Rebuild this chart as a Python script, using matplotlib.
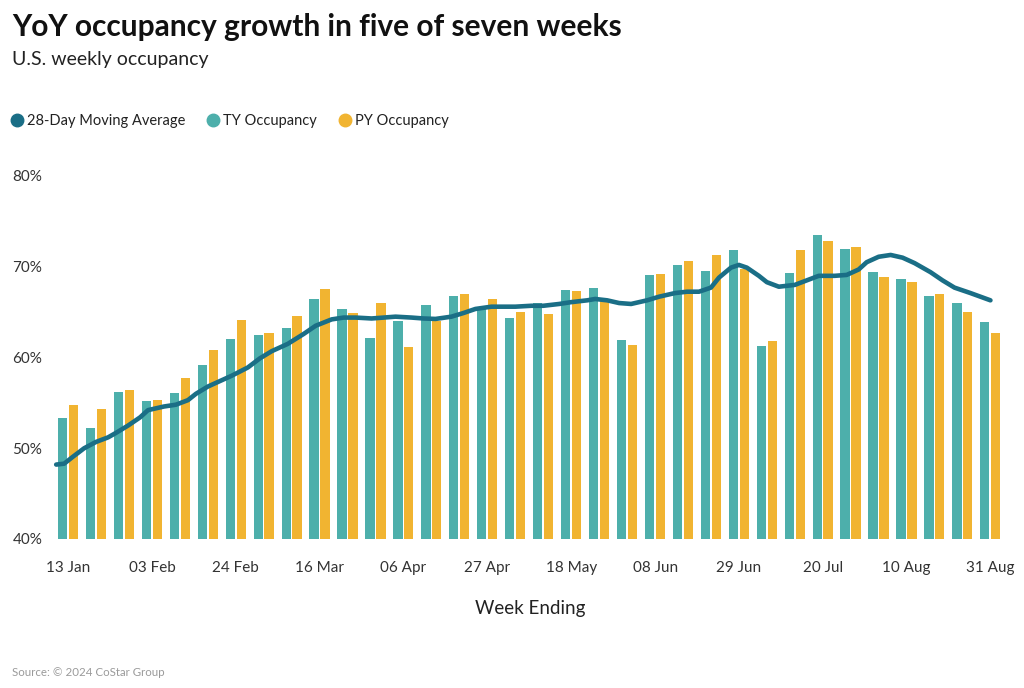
import numpy as np
import pandas as pd
import matplotlib
matplotlib.use("Agg")
import matplotlib.pyplot as plt
from matplotlib.lines import Line2D

plt.rcParams['font.family'] = ['Lato', 'DejaVu Sans']

# weekly data (week ending)
weeks = pd.date_range("2024-01-13", "2024-08-31", freq="7D")
ty_occ = [53.3, 52.2, 56.2, 55.2, 56.1, 59.2, 62.0, 62.5, 63.2, 66.5,
          65.3, 62.2, 64.0, 65.8, 66.8, 65.6, 64.4, 66.0, 67.4, 67.7,
          61.9, 69.1, 70.2, 69.5, 71.9, 61.3, 69.3, 73.5, 72.0, 69.4,
          68.6, 66.8, 66.0, 63.9]
py_occ = [54.8, 54.3, 56.4, 55.3, 57.7, 60.8, 64.1, 62.7, 64.6, 67.5,
          64.9, 66.0, 61.2, 64.0, 67.0, 66.5, 65.0, 64.8, 67.3, 66.4,
          61.4, 69.2, 70.6, 71.3, 69.7, 61.8, 71.9, 72.8, 72.2, 68.9,
          68.3, 67.0, 65.0, 62.7]

# 28-day moving average (daily, read at a few days apart)
ma_dates = ["2024-01-10", "2024-01-12", "2024-01-14", "2024-01-17", "2024-01-20",
            "2024-01-23", "2024-01-25", "2024-01-28", "2024-01-31", "2024-02-02",
            "2024-02-06", "2024-02-09", "2024-02-12", "2024-02-14", "2024-02-17",
            "2024-02-20", "2024-02-23", "2024-02-27", "2024-03-01", "2024-03-04",
            "2024-03-08", "2024-03-12", "2024-03-15", "2024-03-19", "2024-03-22",
            "2024-03-25", "2024-03-29", "2024-04-01", "2024-04-04", "2024-04-08",
            "2024-04-11", "2024-04-14", "2024-04-18", "2024-04-21", "2024-04-24",
            "2024-04-28", "2024-05-01", "2024-05-04", "2024-05-08", "2024-05-11",
            "2024-05-15", "2024-05-18", "2024-05-22", "2024-05-24", "2024-05-27",
            "2024-05-30", "2024-06-02", "2024-06-06", "2024-06-09", "2024-06-13",
            "2024-06-16", "2024-06-19", "2024-06-22", "2024-06-24", "2024-06-27",
            "2024-06-29", "2024-07-01", "2024-07-04", "2024-07-06", "2024-07-09",
            "2024-07-13", "2024-07-16", "2024-07-19", "2024-07-23", "2024-07-26",
            "2024-07-29", "2024-07-31", "2024-08-03", "2024-08-06", "2024-08-09",
            "2024-08-12", "2024-08-16", "2024-08-19", "2024-08-22", "2024-08-26",
            "2024-08-31"]
ma_vals = [48.2, 48.3, 49.0, 50.0, 50.7, 51.2, 51.7, 52.5, 53.4, 54.2,
           54.6, 54.8, 55.3, 56.0, 56.8, 57.4, 58.0, 58.9, 59.9, 60.7,
           61.5, 62.6, 63.5, 64.2, 64.4, 64.4, 64.3, 64.4, 64.5, 64.4,
           64.3, 64.25, 64.5, 64.9, 65.35, 65.6, 65.6, 65.6, 65.7, 65.7,
           65.9, 66.1, 66.3, 66.45, 66.3, 66.0, 65.9, 66.3, 66.7, 67.1,
           67.25, 67.25, 67.7, 68.8, 69.9, 70.2, 69.9, 69.0, 68.3, 67.8,
           68.0, 68.5, 69.0, 69.0, 69.1, 69.7, 70.5, 71.1, 71.3, 71.0,
           70.4, 69.4, 68.5, 67.7, 67.1, 66.3]

TEAL = "#4dafab"
GOLD = "#f1b431"
DARK = "#1a6e86"

fig = plt.figure(figsize=(10.24, 6.88), dpi=100)
ax = fig.add_axes([50 / 1024, (688 - 539) / 688, 960 / 1024, 363 / 688])

x = np.arange(len(weeks))
ax.bar(x - 0.2, ty_occ, width=0.33, color=TEAL, zorder=2)
ax.bar(x + 0.19, py_occ, width=0.33, color=GOLD, zorder=2)

# moving average on the same week-index scale
ma_x = (pd.to_datetime(ma_dates) - weeks[0]).days / 7.0
ax.plot(ma_x, ma_vals, color=DARK, lw=3.3, solid_capstyle="round",
        solid_joinstyle="round", zorder=3)

ax.set_xlim(-0.65, 33.7)
ax.set_ylim(40, 80)
ax.set_yticks([40, 50, 60, 70, 80])
ax.set_yticklabels([f"{v}%" for v in [40, 50, 60, 70, 80]])
ticks = x[::3]
ax.set_xticks(ticks)
ax.set_xticklabels([weeks[i].strftime("%d %b") for i in ticks])
ax.tick_params(axis="y", length=0, pad=27, labelsize=11, labelcolor="#333333")
for lbl in ax.get_yticklabels():
    lbl.set_horizontalalignment("left")
ax.tick_params(axis="x", length=0, pad=16, labelsize=11, labelcolor="#333333")
for s in ax.spines.values():
    s.set_visible(False)
ax.set_xlabel("Week Ending", fontsize=13.5, color="#222222", labelpad=18)

fig.text(12 / 1024, 1 - 27 / 688, "YoY occupancy growth in five of seven weeks",
         fontsize=21.5, fontweight="bold", color="#111111", va="center")
fig.text(12 / 1024, 1 - 60 / 688, "U.S. weekly occupancy",
         fontsize=14, color="#222222", va="center")
fig.text(12 / 1024, 1 - 672 / 688, "Source: © 2024 CoStar Group",
         fontsize=8.3, color="#9a9a9a", va="center")

handles = [Line2D([], [], ls="", marker="o", ms=9, color=c) for c in (DARK, TEAL, GOLD)]
fig.legend(handles, ["28-Day Moving Average", "TY Occupancy", "PY Occupancy"],
           loc="center left", bbox_to_anchor=(-5 / 1024, 1 - 121 / 688), ncol=3,
           frameon=False, fontsize=10.5, handletextpad=0.1, columnspacing=1.3,
           handlelength=1.2, labelcolor="#222222")

fig.savefig("out.png", dpi=100)
